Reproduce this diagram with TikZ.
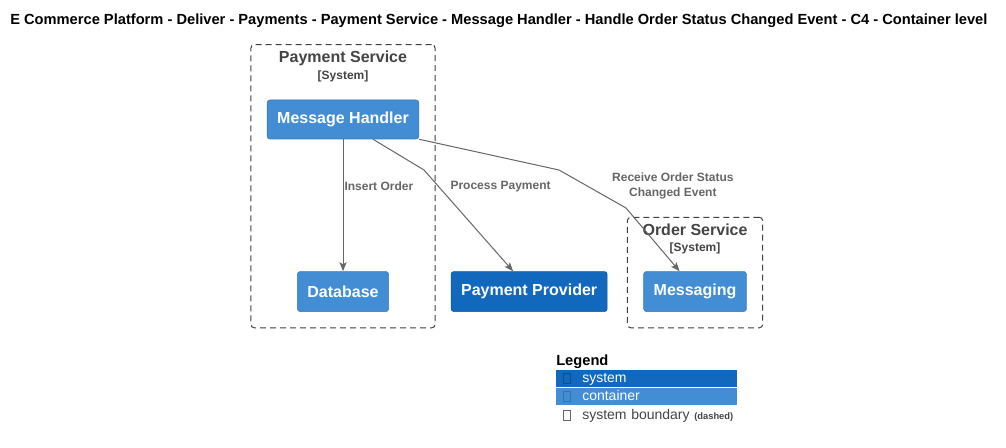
\documentclass[tikz,border=0pt]{standalone}
\usepackage{fontspec}
\setmainfont{Liberation Sans}
\usetikzlibrary{arrows.meta, positioning, fit, calc, backgrounds}
\definecolor{sysblue}{HTML}{1168BD}
\definecolor{contblue}{HTML}{438DD5}
\definecolor{relgray}{HTML}{666666}
\definecolor{bndgray}{HTML}{444444}

\begin{document}
\begin{tikzpicture}[x=0.75pt, y=-0.75pt,
    cont/.style={rectangle, rounded corners=2pt, fill=contblue, draw=contblue!85!black,
                 line width=0.4pt, text=white, font=\bfseries\fontsize{12}{14}\selectfont,
                 minimum height=30pt, inner xsep=7.5pt},
    sys/.style={cont, fill=sysblue, draw=sysblue!85!black},
    bnd/.style={rectangle, rounded corners=2.5pt, draw=black!75, dash pattern=on 4.5pt off 3pt,
                line width=0.75pt, inner sep=12pt},
    bndlbl/.style={font=\bfseries\fontsize{12}{14}\selectfont, text=bndgray, inner sep=0pt, anchor=base},
    bndtag/.style={font=\bfseries\fontsize{9}{11}\selectfont, text=bndgray, inner sep=0pt, anchor=base},
    rel/.style={draw=relgray, line width=0.75pt, -{Stealth[length=6.75pt, width=5.25pt, inset=1.5pt]}},
    rlbl/.style={font=\bfseries\fontsize{9}{11.25}\selectfont, text=relgray, inner sep=0pt, align=center},
    legrow/.style={rectangle, minimum width=135.75pt, minimum height=12.75pt, text width=96.75pt,
                   inner xsep=19.5pt, inner ysep=0pt, align=left, text=white, text depth=1pt,
                   font=\fontsize{10.5}{12}\selectfont},
    tofu/.style={rectangle, draw=#1, line width=0.6pt, minimum width=5pt, minimum height=7.5pt, inner sep=0pt},
    node distance=27pt
]
\begin{pgfonlayer}{background}
\fill[white] (0,0) rectangle (1006,448);
\end{pgfonlayer}
\useasboundingbox (0,0) rectangle (1006,448);

% --- Title ---
\node[font=\bfseries\fontsize{11}{13}\selectfont, anchor=base west, inner sep=0pt] (title) at (10,25)
    {E Commerce Platform - Deliver - Payments - Payment Service - Message Handler - Handle Order Status Changed Event - C4 - Container level};

% --- Containers ---
\node[cont, minimum height=29.25pt] (mh) at (343,119.5) {Message Handler};
\node[cont, below=99pt of mh] (db) {Database};
\node[sys, right=46.5pt of db] (pp) {Payment Provider};
\node[cont, right=of pp] (msg) {Messaging};

% --- Boundaries (drawn BEHIND containers) ---
\coordinate[above=29.25pt of mh.north] (ps_top);
\coordinate[above=28.5pt of msg.north] (os_top);
\begin{pgfonlayer}{background}
\node[bnd, fit=(ps_top)(mh)(db)] (ps_bnd) {};
\node[bnd, fit=(os_top)(msg)] (os_bnd) {};
\end{pgfonlayer}

\node[bndlbl] (ps_title) at ([yshift=-13.9pt]ps_bnd.north) {Payment Service};
\node[bndtag] (ps_tag) at ([yshift=-26.25pt]ps_bnd.north) {[System]};
\node[bndlbl] (os_title) at ([yshift=-14pt]os_bnd.north) {Order Service};
\node[bndtag] (os_tag) at ([yshift=-26pt]os_bnd.north) {[System]};

% --- Relations ---
\coordinate (pp_bend) at (424,170);
\coordinate (msg_bend1) at (559,170);
\coordinate (msg_bend2) at (626,208);

\draw[rel] (mh.south) --
    node[rlbl, pos=0.356, anchor=west, xshift=0.75pt] (ins_lbl) {Insert Order}
    (db.north);
\draw[rel] ([xshift=22.5pt]mh.south) -- (pp_bend) --
    node[rlbl, pos=0.16, anchor=west, xshift=8.85pt] (pay_lbl) {Process Payment}
    ([xshift=-12pt]pp.north);
\draw[rel] (mh.south east) -- (msg_bend1) --
    node[rlbl, pos=0.42, anchor=west, xshift=18.4pt] (evt_lbl) {Receive Order Status\\Changed Event}
    (msg_bend2) -- ([xshift=-11.6pt]msg.north);

% --- Legend ---
\node[font=\bfseries\fontsize{11}{13}\selectfont, anchor=base west, inner sep=0pt] (leg_title) at (556,365.5) {Legend};
\node[legrow, fill=sysblue, below right=0.75pt and 0pt of leg_title.south west] (leg_sys) {system};
\node[legrow, fill=contblue, below=0pt of leg_sys] (leg_cont) {container};
\node[legrow, text=bndgray, text width=130pt, below right=1pt and 0pt of leg_cont.south west] (leg_bnd)
    {system boundary {\bfseries\fontsize{7}{8}\selectfont (dashed)}};
\node[tofu=sysblue!75!black] (leg_sys_icon) at ([xshift=8.25pt]leg_sys.west) {};
\node[tofu=contblue!80!black] (leg_cont_icon) at ([xshift=8.25pt]leg_cont.west) {};
\node[tofu=black!60] (leg_bnd_icon) at ([xshift=8.25pt]leg_bnd.west) {};

\end{tikzpicture}
\end{document}
